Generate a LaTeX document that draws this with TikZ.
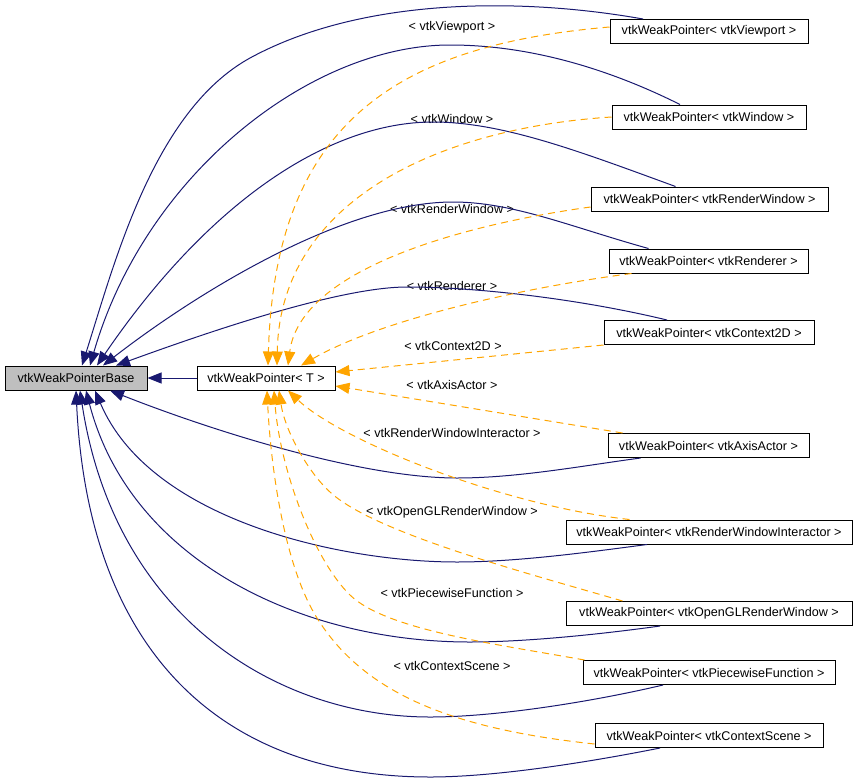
\documentclass[tikz,border=0pt]{standalone}
\usepackage{fontspec}
\setmainfont{Liberation Sans}
\usetikzlibrary{arrows.meta}
\definecolor{edgeblue}{HTML}{191970}
\definecolor{edgeorange}{HTML}{FFA500}
\definecolor{basegray}{HTML}{BFBFBF}

\begin{document}
\begin{tikzpicture}[x=1pt, y=-1pt,
  cls/.style={draw=black, line width=1pt, fill=white, minimum height=24pt, inner xsep=8pt, inner ysep=0pt, font=\fontsize{12.6}{15}\selectfont},
  inh/.style={edgeblue, line width=1pt, -{Triangle[length=14pt,width=11pt]}},
  tpl/.style={edgeorange, line width=1pt, dash pattern=on 7pt off 5pt, -{Triangle[length=14pt,width=11pt]}},
  lbl/.style={inner sep=0pt, font=\fontsize{12.6}{15}\selectfont}]
\useasboundingbox (0,0) rectangle (859,782);
\node[cls, fill=basegray, minimum width=142pt] (base) at (76,378) {vtkWeakPointerBase};
\node[cls, minimum width=138pt] (tp) at (266,378) {vtkWeakPointer< T >};
\node[cls, minimum width=198pt] (vp) at (709,31.5) {vtkWeakPointer< vtkViewport >};
\node[cls, minimum width=194pt] (win) at (709,117) {vtkWeakPointer< vtkWindow >};
\node[cls, minimum width=237pt] (rw) at (709.5,199) {vtkWeakPointer< vtkRenderWindow >};
\node[cls, minimum width=199pt] (ren) at (708.5,261) {vtkWeakPointer< vtkRenderer >};
\node[cls, minimum width=210pt] (c2d) at (709,332.5) {vtkWeakPointer< vtkContext2D >};
\node[cls, minimum width=201pt] (axis) at (708.5,445.5) {vtkWeakPointer< vtkAxisActor >};
\node[cls, minimum width=286pt] (rwi) at (709,532) {vtkWeakPointer< vtkRenderWindowInteractor >};
\node[cls, minimum width=286pt] (ogl) at (709,613.5) {vtkWeakPointer< vtkOpenGLRenderWindow >};
\node[cls, minimum width=252pt] (pwf) at (709,672.5) {vtkWeakPointer< vtkPiecewiseFunction >};
\node[cls, minimum width=228pt] (cs) at (709,735.5) {vtkWeakPointer< vtkContextScene >};
\node[lbl] (lvp) at (452,27) {< vtkViewport >};
\node[lbl] (lwin) at (452,119) {< vtkWindow >};
\node[lbl] (lrw) at (452,209) {< vtkRenderWindow >};
\node[lbl] (lren) at (452,286) {< vtkRenderer >};
\node[lbl] (lc2d) at (453,346) {< vtkContext2D >};
\node[lbl] (laxis) at (452,385) {< vtkAxisActor >};
\node[lbl] (lrwi) at (452,433) {< vtkRenderWindowInteractor >};
\node[lbl] (logl) at (452,512) {< vtkOpenGLRenderWindow >};
\node[lbl] (lpwf) at (452,593) {< vtkPiecewiseFunction >};
\node[lbl] (lcs) at (452,666) {< vtkContextScene >};
\draw[inh] (tp) -- (base);
\draw[inh] ([xshift=-66pt]vp.north) .. controls (525,-2) and (364,-4) .. (250,58) .. controls (154,111) and (115,261) .. ([xshift=6pt]base.north);
\draw[inh] ([xshift=-29pt]win.north) .. controls (609,69) and (530,45) .. (450,45) .. controls (310,45) and (145,175) .. ([xshift=14pt]base.north);
\draw[inh] ([xshift=-34pt]rw.north) .. controls (581,152) and (503,122) .. (433,122) .. controls (330,122) and (210,200) .. ([xshift=21pt]base.north);
\draw[inh] ([xshift=-60pt]ren.north) .. controls (571,227) and (513,202) .. (453,202) .. controls (340,202) and (190,298) .. ([xshift=27pt]base.north);
\draw[inh] ([xshift=-42pt]c2d.north) .. controls (580,299) and (477,287) .. (407,287) .. controls (337,287) and (200,335) .. ([xshift=40pt]base.north);
\draw[inh] ([xshift=-68pt]axis.south) .. controls (581,466) and (517,478) .. (457,478) .. controls (360,478) and (210,430) .. ([xshift=34pt]base.south);
\draw[inh] ([xshift=-62pt]rwi.south) .. controls (590,552) and (517,562) .. (457,562) .. controls (340,562) and (150,520) .. ([xshift=19pt]base.south);
\draw[inh] ([xshift=-49pt]ogl.south) .. controls (610,633) and (530,642) .. (470,642) .. controls (300,642) and (130,560) .. ([xshift=10pt]base.south);
\draw[inh] ([xshift=-46pt]pwf.south) .. controls (600,700) and (500,717) .. (430,717) .. controls (280,717) and (115,620) .. ([xshift=4pt]base.south);
\draw[inh] ([xshift=-49pt]cs.south) .. controls (600,760) and (500,777) .. (430,777) .. controls (220,777) and (88,650) .. (base.south);
\draw[tpl] ([yshift=4.5pt]vp.west) .. controls (400,45) and (275,120) .. ([xshift=2pt]tp.north);
\draw[tpl] (win.west) .. controls (440,128) and (280,200) .. ([xshift=11pt]tp.north);
\draw[tpl] ([yshift=-8pt]rw.west) .. controls (460,225) and (300,270) .. ([xshift=22pt]tp.north);
\draw[tpl] ([xshift=23pt]ren.south west) .. controls (520,288) and (380,320) .. ([xshift=35pt]tp.north);
\draw[tpl] (c2d.south west) -- ([yshift=6pt]tp.east);
\draw[tpl] ([xshift=15pt]axis.north west) -- ([yshift=-8pt]tp.east);
\draw[tpl] ([xshift=64pt]rwi.north west) .. controls (500,505) and (340,440) .. ([xshift=22pt]tp.south);
\draw[tpl] ([xshift=57pt]ogl.north west) .. controls (527,573) and (374,533) .. (330,492) .. controls (308,472) and (285,431) .. ([xshift=13pt]tp.south);
\draw[tpl] ([xshift=2pt]pwf.north west) .. controls (496,644) and (386,630) .. (350,595) .. controls (314,560) and (280,470) .. ([xshift=8pt]tp.south);
\draw[tpl] ([yshift=-8.5pt]cs.west) .. controls (455,729) and (365,695) .. (317,618) .. controls (285,567) and (271,471) .. ([xshift=1pt]tp.south);
\end{tikzpicture}
\end{document}
